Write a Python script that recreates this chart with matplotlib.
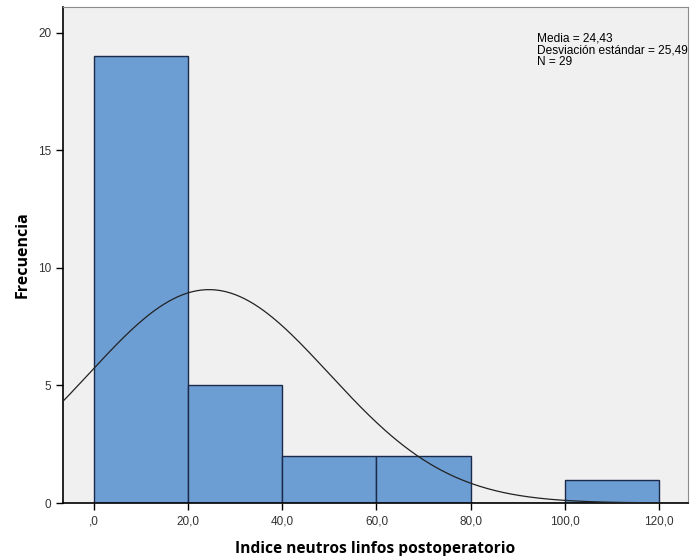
import numpy as np
import matplotlib.pyplot as plt

# histogram of the postoperative neutrophil/lymphocyte index
bin_edges = [0, 20, 40, 60, 80, 100, 120]
counts = [19, 5, 2, 2, 0, 1]
mean = 24.43
std = 25.49
n = 29
xtick_labels = [',0', '20,0', '40,0', '60,0', '80,0', '100,0', '120,0']
yticks = [0, 5, 10, 15, 20]

plt.rcParams['font.family'] = ['Liberation Sans', 'DejaVu Sans']

fig = plt.figure(figsize=(6.93, 5.56), dpi=100)
ax = fig.add_axes([0.0909, 0.0953, 0.9019, 0.8921])
ax.set_facecolor('#f0f0f0')

widths = np.diff(bin_edges)
ax.bar(bin_edges[:-1], counts, width=widths, align='edge',
       color='#6c9dd3', edgecolor='#1a2a48', linewidth=1.0, zorder=2)

# normal curve scaled to counts
x = np.linspace(-7, 127, 400)
pdf = np.exp(-0.5 * ((x - mean) / std) ** 2) / (std * np.sqrt(2 * np.pi))
ax.plot(x, n * widths[0] * pdf, color='#222222', linewidth=0.9, zorder=3)

ax.set_xlim(-6.6, 126.2)
ax.set_ylim(0, 21.1)
ax.set_xticks(bin_edges)
ax.set_xticklabels(xtick_labels)
ax.set_yticks(yticks)
ax.tick_params(direction='out', length=5, width=1, labelsize=8.5,
               colors='black', labelcolor='#333333')
ax.tick_params(axis='x', pad=4)

for side in ['top', 'right']:
    ax.spines[side].set_color('#8c8c8c')
for side in ['left', 'bottom']:
    ax.spines[side].set_color('black')
    ax.spines[side].set_linewidth(1.2)

ax.set_xlabel('Indice neutros linfos postoperatorio', fontsize=11.2,
              fontweight='bold', labelpad=10, family=['Open Sans', 'DejaVu Sans'])
ax.set_ylabel('Frecuencia', fontsize=11.5, fontweight='bold', labelpad=5,
              family=['Open Sans', 'DejaVu Sans'])

ax.text(0.759, 0.948,
        'Media = %s\nDesviación estándar = %s\nN = %d'
        % (f'{mean:.2f}'.replace('.', ','), f'{std:.2f}'.replace('.', ','), n),
        transform=ax.transAxes, fontsize=8.6, va='top', ha='left',
        linespacing=0.98, clip_on=True, zorder=4)

fig.savefig('out.png', dpi=100)
